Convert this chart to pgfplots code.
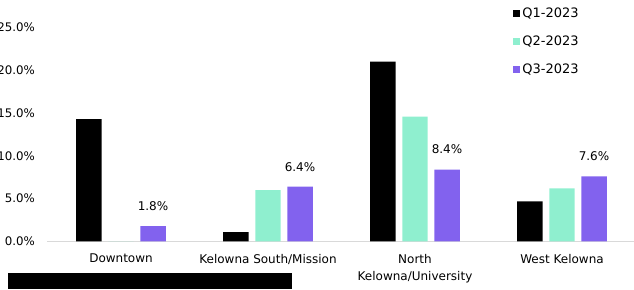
\documentclass[border=0pt]{standalone}
\usepackage{pgfplots}
\pgfplotsset{compat=1.18}
\usepackage{fontspec}
\setmainfont{DejaVu Sans}
\definecolor{qone}{RGB}{0,0,0}
\definecolor{qtwo}{RGB}{143,239,207}
\definecolor{qthree}{RGB}{130,98,238}
\begin{document}
\begin{tikzpicture}
\path[use as bounding box] (0,0) rectangle (634pt,289pt);
\begin{axis}[
  at={(47.5pt,47.5pt)}, anchor=south west,
  scale only axis,
  width=588pt, height=214pt,
  xmin=-0.5, xmax=3.5,
  ymin=0, ymax=25,
  ytick={0,5,10,15,20,25},
  yticklabel={\pgfmathprintnumber[fixed,fixed zerofill,precision=1]{\tick}\%},
  /pgf/number format/assume math mode=true,
  xtick={0,1,2,3},
  xticklabels={Downtown,Kelowna South/Mission,{North\\Kelowna/University},West Kelowna},
  xticklabel style={align=center, font=\fontsize{12}{17}\selectfont, yshift=-9pt},
  yticklabel style={font=\fontsize{11.8}{14}\selectfont, xshift=-9pt},
  axis line style={draw=none},
  tick style={draw=none},
  extra y ticks={0},
  extra y tick labels={},
  extra y tick style={grid=major, major grid style={draw=black!15, line width=1.2pt}},
  bar width=0.173,
  clip=false,
  legend style={at={(0.792,1.1)}, anchor=north west, draw=none, fill=none,
    font=\fontsize{13}{15}\selectfont, row sep=12.5pt, inner sep=0pt,
    legend cell align=left},
  legend image code/.code={\fill[#1] (0pt,-3.5pt) rectangle (7pt,3.5pt);},
]
\addplot[ybar, fill=qone, draw=none, bar shift=-0.218] coordinates {(0,14.3) (1,1.1) (2,21.0) (3,4.7)};
\addlegendentry{Q1-2023}
\addplot[ybar, fill=qtwo, draw=none, bar shift=0] coordinates {(0,0) (1,6.0) (2,14.6) (3,6.2)};
\addlegendentry{Q2-2023}
\addplot[ybar, fill=qthree, draw=none, bar shift=0.218,
  nodes near coords={\pgfmathprintnumber[fixed,fixed zerofill,precision=1]{\pgfplotspointmeta}\%},
  nodes near coords style={font=\fontsize{12}{14}\selectfont, xshift=32pt, yshift=12pt, /pgf/number format/assume math mode=true}]
  coordinates {(0,1.8) (1,6.4) (2,8.4) (3,7.6)};
\addlegendentry{Q3-2023}
\end{axis}
\fill[black] (8pt,0pt) rectangle (292pt,16pt);
\end{tikzpicture}
\end{document}
